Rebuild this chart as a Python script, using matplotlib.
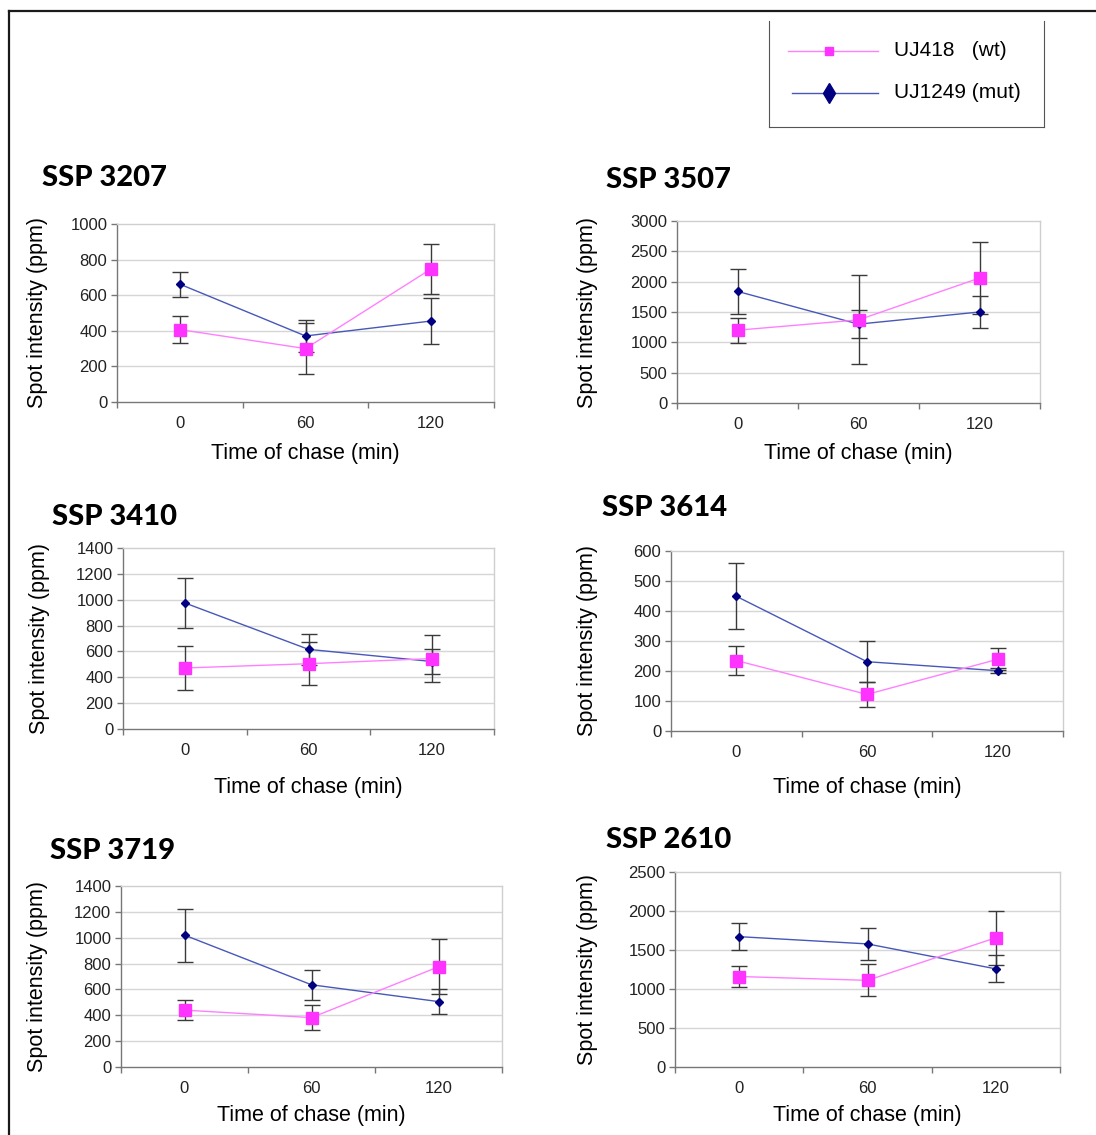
import matplotlib
matplotlib.use("Agg")
import matplotlib.pyplot as plt
from matplotlib.lines import Line2D

W, H = 1096, 1135

TIMES = ["0", "60", "120"]
X = [0, 1, 2]

# spot 3207
WT_3207 = [407, 300, 748]
WT_3207_ERR = [78, 142, 140]
MUT_3207 = [662, 371, 455]
MUT_3207_ERR = [70, 88, 130]
# spot 3507
WT_3507 = [1200, 1370, 2060]
WT_3507_ERR = [205, 735, 590]
MUT_3507 = [1840, 1300, 1500]
MUT_3507_ERR = [370, 225, 268]
# spot 3410
WT_3410 = [472, 505, 545]
WT_3410_ERR = [170, 165, 180]
MUT_3410 = [975, 616, 522]
MUT_3410_ERR = [190, 120, 100]
# spot 3614
WT_3614 = [235, 122, 239]
WT_3614_ERR = [48, 41, 37]
MUT_3614 = [449, 231, 201]
MUT_3614_ERR = [110, 68, 8]
# spot 3719
WT_3719 = [440, 382, 775]
WT_3719_ERR = [76, 95, 212]
MUT_3719 = [1020, 636, 506]
MUT_3719_ERR = [205, 118, 95]
# spot 2610
WT_2610 = [1160, 1111, 1657]
WT_2610_ERR = [140, 205, 344]
MUT_2610 = [1671, 1578, 1258]
MUT_2610_ERR = [171, 205, 172]

WT_LABEL = "UJ418   (wt)"
MUT_LABEL = "UJ1249 (mut)"

# name, wt, wt err, mut, mut err, y max, y step, axes box (px: l, t, r, b), title pos, ylabel x, xlabel y
PANELS = [
    ("SSP 3207", WT_3207, WT_3207_ERR, MUT_3207, MUT_3207_ERR, 1000, 200,
     (117, 224, 494, 402), (42, 178), 38, 453),
    ("SSP 3507", WT_3507, WT_3507_ERR, MUT_3507, MUT_3507_ERR, 3000, 500,
     (677, 221, 1040, 403), (606, 180), 587, 453),
    ("SSP 3410", WT_3410, WT_3410_ERR, MUT_3410, MUT_3410_ERR, 1400, 200,
     (123, 548, 494, 729), (52, 517), 40, 787),
    ("SSP 3614", WT_3614, WT_3614_ERR, MUT_3614, MUT_3614_ERR, 600, 100,
     (671, 551, 1063, 731), (602, 508), 587, 787),
    ("SSP 3719", WT_3719, WT_3719_ERR, MUT_3719, MUT_3719_ERR, 1400, 200,
     (121, 886, 502, 1067), (50, 851), 38, 1116),
    ("SSP 2610", WT_2610, WT_2610_ERR, MUT_2610, MUT_2610_ERR, 2500, 500,
     (675, 872, 1060, 1067), (606, 840), 587, 1116),
]

WT_LINE, WT_MARK = "#ff80ff", "#ff33ff"
MUT_LINE, MUT_MARK = "#4858b8", "#000080"
TITLE_FONT = ["Lato", "Liberation Sans", "DejaVu Sans"]

plt.rcParams.update({
    "font.family": ["Liberation Sans", "DejaVu Sans"],
    "font.size": 12,
})

fig = plt.figure(figsize=(W / 100, H / 100), dpi=100)


def fx(px):
    return px / W


def fy(py):
    return 1 - py / H


for name, wt, wt_err, mut, mut_err, ymax, ystep, box, tpos, ylx, xly in PANELS:
    l, t, r, b = box
    ax = fig.add_axes([fx(l), fy(b), fx(r - l), (b - t) / H])
    yt = list(range(0, ymax + 1, ystep))
    for y in yt[1:-1]:
        ax.axhline(y, color="#d6d6d6", lw=1, zorder=0)
    ax.errorbar(X, wt, yerr=wt_err, fmt="none", ecolor="#3a3a3a",
                elinewidth=1, capsize=6, capthick=1, zorder=2)
    ax.errorbar(X, mut, yerr=mut_err, fmt="none", ecolor="#3a3a3a",
                elinewidth=1, capsize=6, capthick=1, zorder=2)
    ax.plot(X, mut, color=MUT_LINE, lw=1, zorder=3)
    ax.plot(X, mut, "D", color=MUT_MARK, ms=4, mec=MUT_MARK, zorder=4)
    ax.plot(X, wt, color=WT_LINE, lw=1, zorder=3)
    ax.plot(X, wt, "s", color=WT_MARK, ms=8, mec=WT_MARK, zorder=5)

    ax.set_xlim(-0.5, 2.5)
    ax.set_ylim(0, ymax)
    ax.set_yticks(yt)
    ax.set_xticks([-0.5, 0.5, 1.5, 2.5])
    ax.set_xticklabels([])
    ax.set_xticks(X, minor=True)
    ax.set_xticklabels(TIMES, minor=True)
    ax.tick_params(axis="x", which="major", length=4, width=1, color="#777")
    ax.tick_params(axis="x", which="minor", length=0, pad=10,
                   labelsize=12, labelcolor="#222")
    ax.tick_params(axis="y", length=4, width=1, color="#777", pad=3,
                   labelsize=12, labelcolor="#222")
    for s in ("left", "bottom"):
        ax.spines[s].set_color("#777")
        ax.spines[s].set_linewidth(1)
    for s in ("top", "right"):
        ax.spines[s].set_color("#cfcfcf")
        ax.spines[s].set_linewidth(1)

    fig.text(fx(tpos[0]), fy(tpos[1]), name, ha="left", va="center",
             fontsize=21, fontweight="black", family=TITLE_FONT)
    fig.text(fx(ylx), fy((t + b) / 2), "Spot intensity (ppm)", rotation=90,
             ha="center", va="center", fontsize=15.5)
    fig.text(fx((l + r) / 2), fy(xly), "Time of chase (min)",
             ha="center", va="center", fontsize=15.5)

# legend box, open at the top
lax = fig.add_axes([fx(769), fy(127), fx(1044 - 769), (127 - 21) / H])
lax.set_xlim(0, 1)
lax.set_ylim(0, 1)
lax.set_xticks([])
lax.set_yticks([])
lax.patch.set_alpha(0)
lax.spines["top"].set_visible(False)
for s in ("left", "right", "bottom"):
    lax.spines[s].set_color("#555")
lax.add_line(Line2D([0.069, 0.396], [0.717, 0.717], color=WT_LINE, lw=1))
lax.add_line(Line2D([0.218], [0.717], marker="s", ms=6, color=WT_MARK))
lax.add_line(Line2D([0.084, 0.396], [0.321, 0.321], color=MUT_LINE, lw=1))
lax.add_line(Line2D([0.218], [0.321], marker="d", ms=10, color=MUT_MARK))
lax.text(0.455, 0.717, WT_LABEL, ha="left", va="center", fontsize=15)
lax.text(0.455, 0.321, MUT_LABEL, ha="left", va="center", fontsize=15)

# outer frame running off the right and bottom edges
fig.add_artist(Line2D([fx(8.5), 1.0], [fy(11), fy(11)], color="#1a1a1a", lw=1.6))
fig.add_artist(Line2D([fx(8.5), fx(8.5)], [fy(11), 0.0], color="#1a1a1a", lw=1.6))

fig.savefig("out.png", dpi=100)
